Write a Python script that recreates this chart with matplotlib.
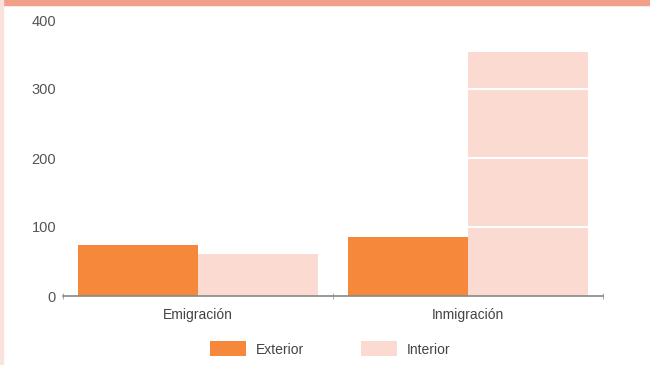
import matplotlib
matplotlib.use("Agg")
import matplotlib.pyplot as plt
import numpy as np
from matplotlib.patches import Rectangle

# datos
categorias = ["Emigración", "Inmigración"]
exterior = [74, 85]
interior = [61, 353]
series = ["Exterior", "Interior"]

col_ext = "#F5883A"
col_int = "#FBDAD2"

plt.rcParams['font.family'] = ['Liberation Sans', 'DejaVu Sans']

fig = plt.figure(figsize=(6.5, 3.65), dpi=100)
ax = fig.add_axes([63/650, 69/365, 540/650, 276/365])

x = np.arange(len(categorias))
w = 0.444
b1 = ax.bar(x - w/2, exterior, width=w, color=col_ext, label=series[0], zorder=2)
b2 = ax.bar(x + w/2, interior, width=w, color=col_int, label=series[1], zorder=2)

# lineas blancas sobre las barras
for v in [100, 200, 300]:
    ax.axhline(v, color="white", lw=1.5, zorder=3)

ax.set_xlim(-0.5, 1.5)
ax.set_ylim(0, 400)
ax.set_yticks([0, 100, 200, 300, 400])
ax.set_xticks(x)
ax.set_xticklabels(categorias)
ax.set_xticks([-0.5, 0.5, 1.5], minor=True)
ax.tick_params(axis="x", which="major", length=0, pad=9, labelsize=10, labelcolor="#444444")
ax.tick_params(axis="x", which="minor", length=4, direction="inout", color="#999999")
ax.tick_params(axis="y", length=0, pad=5, labelsize=10.5, labelcolor="#555555")

for s in ["top", "right", "left"]:
    ax.spines[s].set_visible(False)
ax.spines["bottom"].set_color("#888888")
ax.spines["bottom"].set_linewidth(1.2)

fig.legend(handles=[b1, b2], labels=series, loc="center", bbox_to_anchor=(0.508, 16/365),
           ncol=2, frameon=False, fontsize=10, handlelength=2.6, handleheight=1.25,
           columnspacing=4.1, handletextpad=0.7, labelcolor="#444444")

# franja superior salmon
fig.patches.append(Rectangle((0, 1 - 5/365), 1, 5/365, transform=fig.transFigure,
                             color="#F2A08A", zorder=0))
fig.patches.append(Rectangle((0, 0), 3/650, 1, transform=fig.transFigure,
                             color="#FBE3DD", zorder=0))

fig.savefig("out.png", dpi=100)
